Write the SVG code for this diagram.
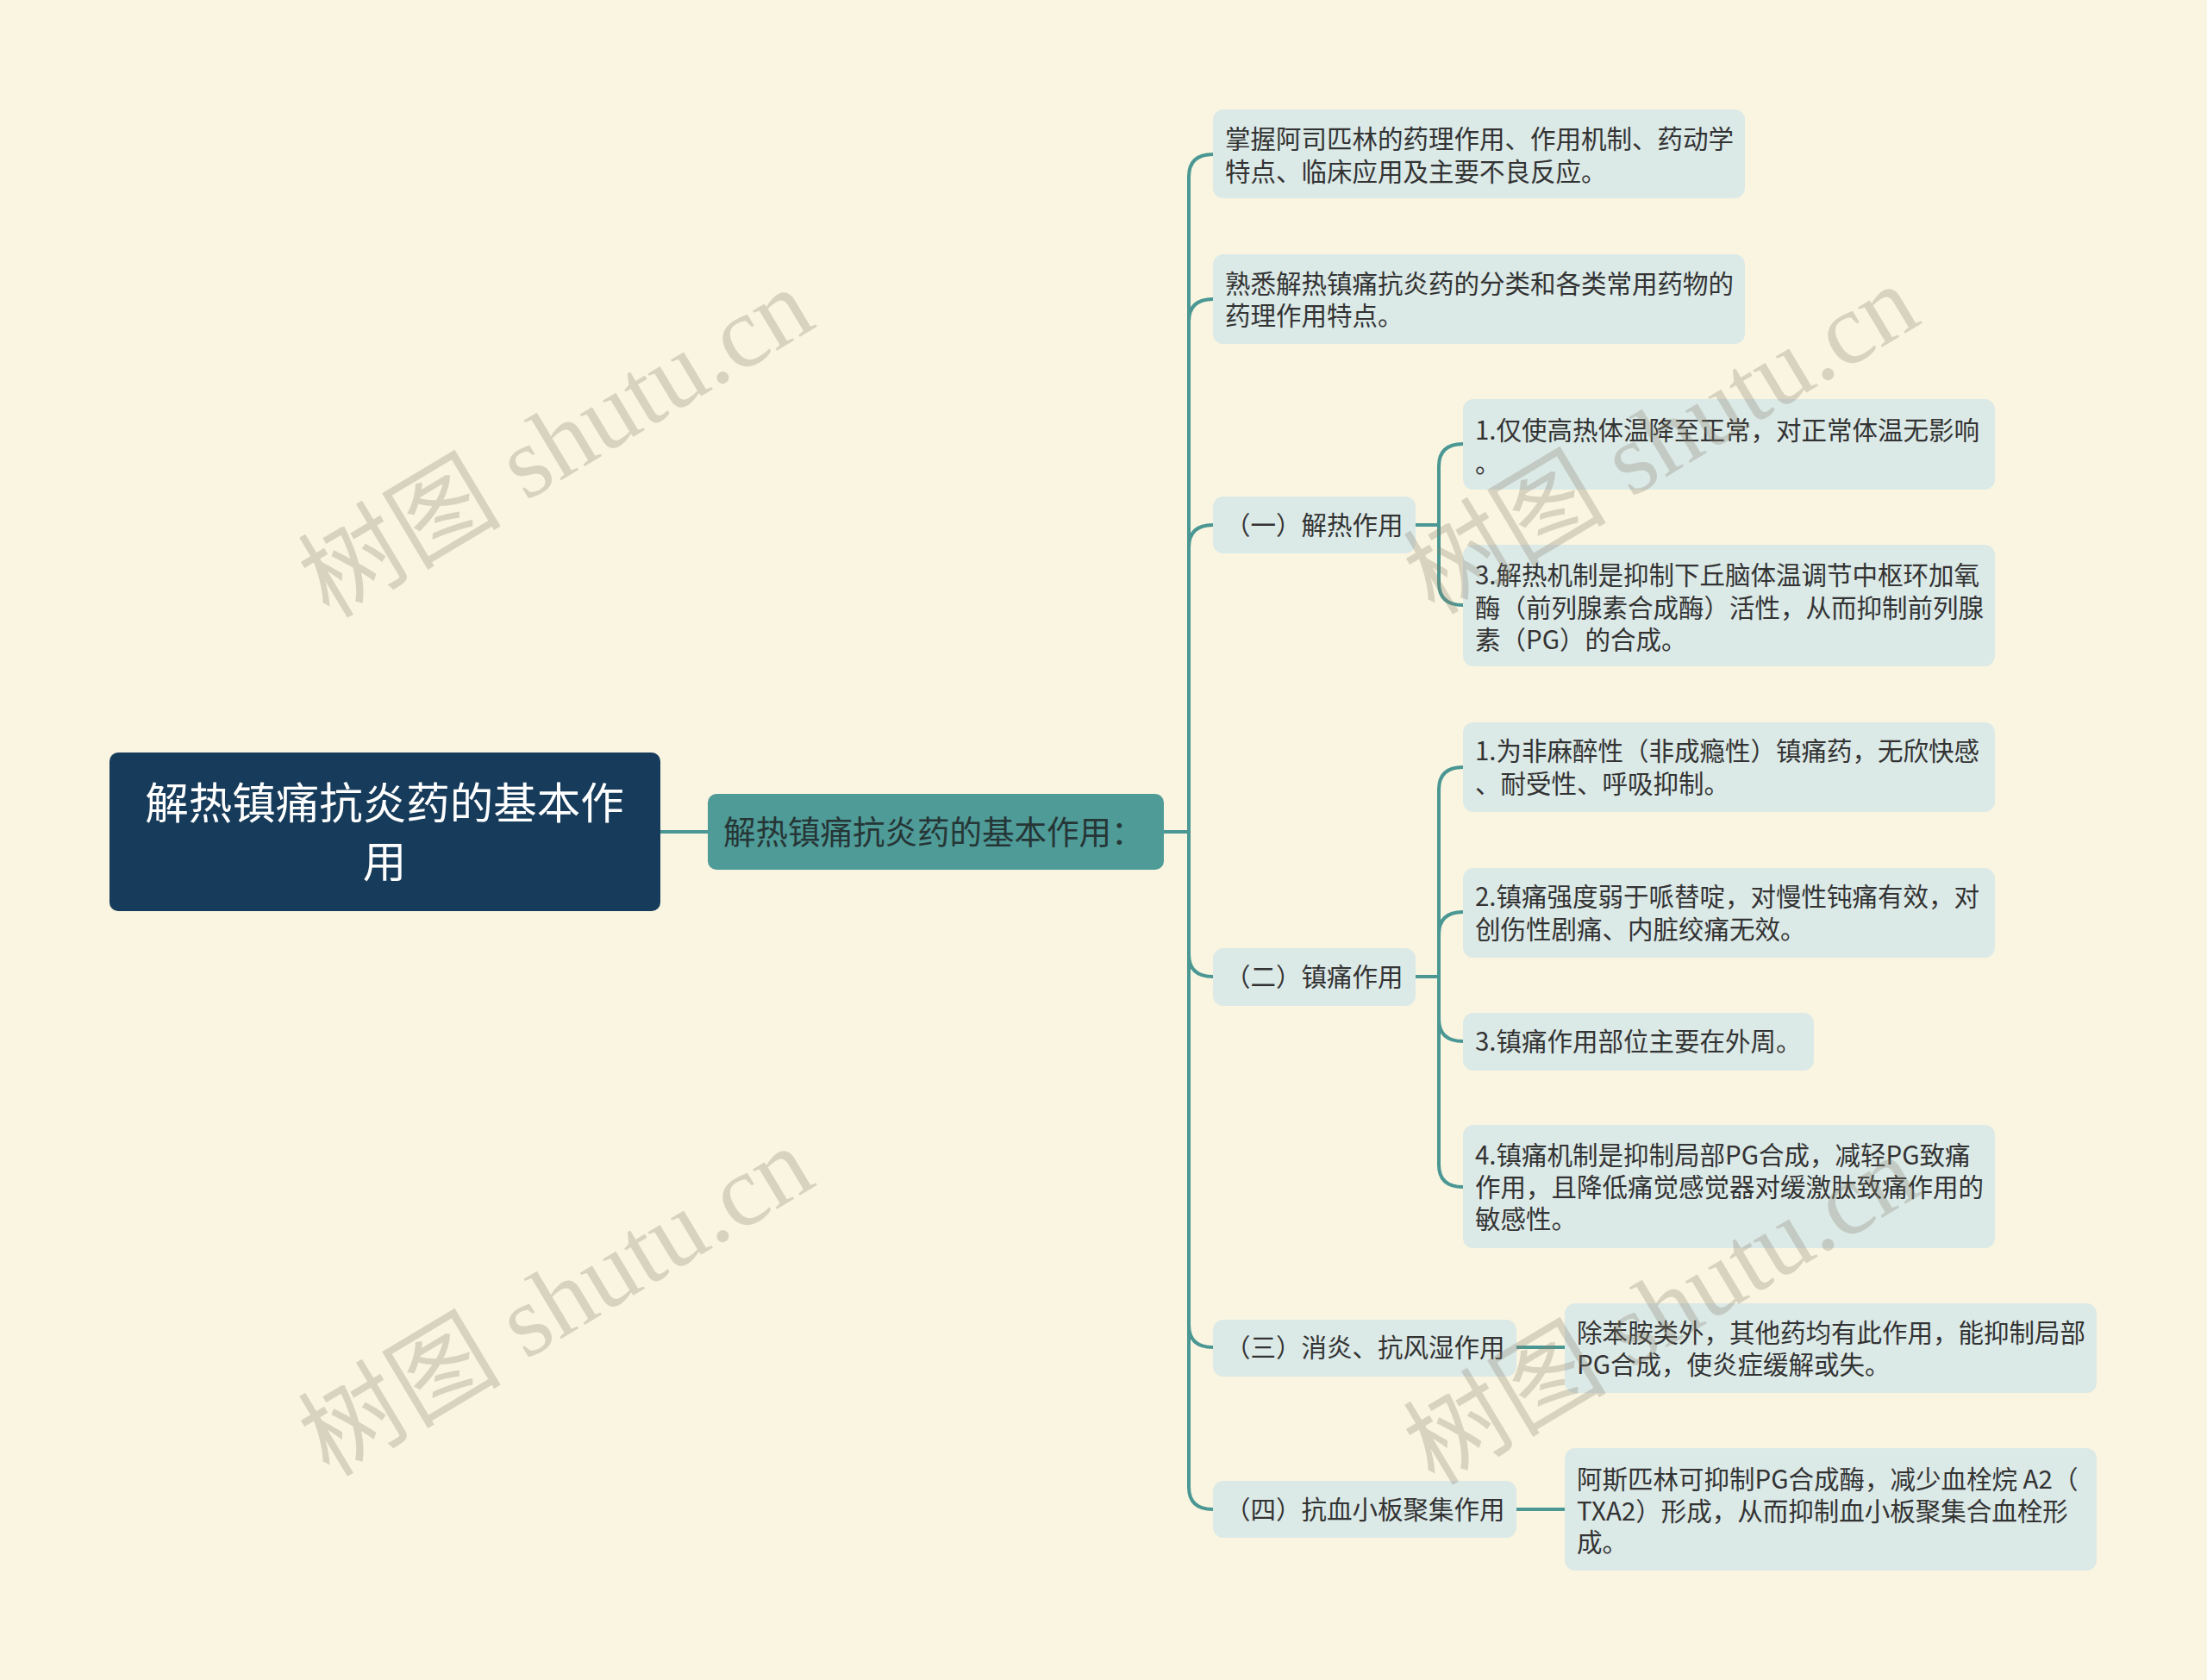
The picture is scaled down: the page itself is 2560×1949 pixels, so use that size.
<svg xmlns="http://www.w3.org/2000/svg" width="2560" height="1949" viewBox="0 0 2560 1949">
<style>
.bg{fill:#faf5e1}
.leaf{fill:#dbe9e7}
.t{font-family:"Noto Sans CJK SC","Noto Sans",sans-serif;font-size:29.5px;fill:#333333}
.c{fill:none;stroke:#4a9793;stroke-width:4;stroke-linecap:round}
.wm{font-family:"Liberation Serif","Noto Sans CJK SC",serif;font-size:118px;fill:#8a8470;fill-opacity:0.3}
</style>
<rect class="bg" x="0" y="0" width="2560" height="1949"/>
<g id="connectors">
<path class="c" d="M766,965 L821,965"/>
<path class="c" d="M1350,965 L1379,965"/>
<path class="c" d="M1379,205 L1379,1725"/>
<path class="c" d="M1379,205 Q1379,179 1407,179"/>
<path class="c" d="M1379,373 Q1379,347 1407,347"/>
<path class="c" d="M1379,635 Q1379,609 1407,609"/>
<path class="c" d="M1379,1107 Q1379,1133 1407,1133"/>
<path class="c" d="M1379,1537 Q1379,1563 1407,1563"/>
<path class="c" d="M1379,1725 Q1379,1751 1407,1751"/>
<path class="c" d="M1642,609 L1669,609"/>
<path class="c" d="M1669,541 L1669,676"/>
<path class="c" d="M1669,541 Q1669,515 1697,515"/>
<path class="c" d="M1669,676 Q1669,702 1697,702"/>
<path class="c" d="M1642,1133 L1669,1133"/>
<path class="c" d="M1669,916 L1669,1351"/>
<path class="c" d="M1669,916 Q1669,890 1697,890"/>
<path class="c" d="M1669,1084 Q1669,1058 1697,1058"/>
<path class="c" d="M1669,1182 Q1669,1208 1697,1208"/>
<path class="c" d="M1669,1351 Q1669,1377 1697,1377"/>
<path class="c" d="M1759,1563 L1815,1563"/>
<path class="c" d="M1759,1751 L1815,1751"/>
</g>
<g id="root">
<rect x="127" y="873" width="639" height="184" rx="10" fill="#173b5a"/>
<text x="446" y="950" text-anchor="middle" font-family="Noto Sans CJK SC, sans-serif" font-size="50.5" fill="#ffffff">解热镇痛抗炎药的基本作</text>
<text x="446" y="1018" text-anchor="middle" font-family="Noto Sans CJK SC, sans-serif" font-size="50.5" fill="#ffffff">用</text>
</g>
<g id="l1">
<rect x="821" y="921" width="529" height="88" rx="10" fill="#4e9b98"/>
<text x="839" y="979" font-family="Noto Sans CJK SC, sans-serif" font-size="37.5" fill="#263535">解热镇痛抗炎药的基本作用：</text>
</g>
<g id="n-a">
<rect class="leaf" x="1407" y="127" width="617" height="103" rx="12"/>
<text class="t" x="1421" y="172">掌握阿司匹林的药理作用、作用机制、药动学</text>
<text class="t" x="1421" y="210">特点、临床应用及主要不良反应。</text>
</g>
<g id="n-b">
<rect class="leaf" x="1407" y="295" width="617" height="104" rx="12"/>
<text class="t" x="1421" y="340">熟悉解热镇痛抗炎药的分类和各类常用药物的</text>
<text class="t" x="1421" y="377">药理作用特点。</text>
</g>
<g id="n-c">
<rect class="leaf" x="1407" y="576" width="235" height="66" rx="12"/>
<text class="t" x="1421" y="620">（一）解热作用</text>
</g>
<g id="n-c1">
<rect class="leaf" x="1697" y="463" width="617" height="105" rx="12"/>
<text class="t" x="1711" y="510">1.仅使高热体温降至正常，对正常体温无影响</text>
<text class="t" x="1711" y="548">。</text>
</g>
<g id="n-c2">
<rect class="leaf" x="1697" y="632" width="617" height="141" rx="12"/>
<text class="t" x="1711" y="678">3.解热机制是抑制下丘脑体温调节中枢环加氧</text>
<text class="t" x="1711" y="716">酶（前列腺素合成酶）活性，从而抑制前列腺</text>
<text class="t" x="1711" y="753">素（PG）的合成。</text>
</g>
<g id="n-d">
<rect class="leaf" x="1407" y="1100" width="235" height="67" rx="12"/>
<text class="t" x="1421" y="1144">（二）镇痛作用</text>
</g>
<g id="n-d1">
<rect class="leaf" x="1697" y="838" width="617" height="104" rx="12"/>
<text class="t" x="1711" y="882">1.为非麻醉性（非成瘾性）镇痛药，无欣快感</text>
<text class="t" x="1711" y="920">、耐受性、呼吸抑制。</text>
</g>
<g id="n-d2">
<rect class="leaf" x="1697" y="1007" width="617" height="104" rx="12"/>
<text class="t" x="1711" y="1051">2.镇痛强度弱于哌替啶，对慢性钝痛有效，对</text>
<text class="t" x="1711" y="1089">创伤性剧痛、内脏绞痛无效。</text>
</g>
<g id="n-d3">
<rect class="leaf" x="1697" y="1175" width="407" height="67" rx="12"/>
<text class="t" x="1711" y="1219">3.镇痛作用部位主要在外周。</text>
</g>
<g id="n-d4">
<rect class="leaf" x="1697" y="1305" width="617" height="143" rx="12"/>
<text class="t" x="1711" y="1351">4.镇痛机制是抑制局部PG合成，减轻PG致痛</text>
<text class="t" x="1711" y="1388">作用，且降低痛觉感觉器对缓激肽致痛作用的</text>
<text class="t" x="1711" y="1425">敏感性。</text>
</g>
<g id="n-e">
<rect class="leaf" x="1407" y="1531" width="352" height="66" rx="12"/>
<text class="t" x="1421" y="1574">（三）消炎、抗风湿作用</text>
</g>
<g id="n-e1">
<rect class="leaf" x="1815" y="1512" width="617" height="104" rx="12"/>
<text class="t" x="1829" y="1557">除苯胺类外，其他药均有此作用，能抑制局部</text>
<text class="t" x="1829" y="1594">PG合成，使炎症缓解或失。</text>
</g>
<g id="n-f">
<rect class="leaf" x="1407" y="1718" width="352" height="66" rx="12"/>
<text class="t" x="1421" y="1762">（四）抗血小板聚集作用</text>
</g>
<g id="n-f1">
<rect class="leaf" x="1815" y="1680" width="617" height="142" rx="12"/>
<text class="t" x="1829" y="1727">阿斯匹林可抑制PG合成酶，减少血栓烷 A2（</text>
<text class="t" x="1829" y="1764">TXA2）形成，从而抑制血小板聚集合血栓形</text>
<text class="t" x="1829" y="1800">成。</text>
</g>
<g id="watermarks">
<text class="wm" transform="translate(645,514) rotate(-31)" text-anchor="middle" dy="40">树图 shutu.cn</text>
<text class="wm" transform="translate(1927,510) rotate(-31)" text-anchor="middle" dy="40">树图 shutu.cn</text>
<text class="wm" transform="translate(645,1510) rotate(-31)" text-anchor="middle" dy="40">树图 shutu.cn</text>
<text class="wm" transform="translate(1927,1520) rotate(-31)" text-anchor="middle" dy="40">树图 shutu.cn</text>
</g>
</svg>
